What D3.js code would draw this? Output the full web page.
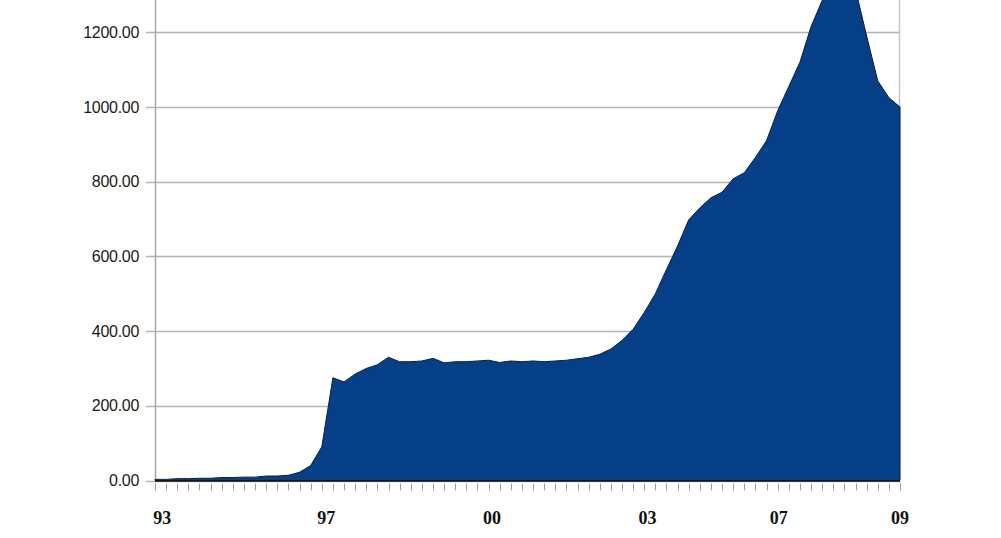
<!DOCTYPE html>
<html>
<head>
<meta charset="utf-8">
<script src="https://cdn.jsdelivr.net/npm/d3@7/dist/d3.min.js"></script>
<style>
  html, body { margin: 0; padding: 0; background: #fff; }
  svg { display: block; }
</style>
</head>
<body>
<div id="chart"></div>
<script>
// quarterly points, index 0 = start of 93
const values = [
  3, 3, 5, 5, 6, 6, 8, 8, 9, 9,
  12, 12, 14, 22, 40, 90, 275, 264, 285, 300,
  310, 330, 318, 318, 320, 327, 315, 318, 318, 320,
  322, 316, 320, 318, 320, 318, 320, 322, 326, 330,
  338, 352, 375, 405, 450, 500, 565, 628, 698, 730,
  757, 772, 808, 824, 865, 910, 990, 1055, 1120, 1215,
  1285, 1335, 1345, 1315, 1190, 1070, 1025, 1000
]
const yTicks = [0, 200, 400, 600, 800, 1000, 1200]
const xLabels = ['93', '97', '00', '03', '07', '09']
const xLabelPos = [0.65, 15.4, 30.3, 44.3, 56.1, 67]

const width = 1001
const height = 538
const plot = { left: 155, right: 900, top: 32.3, bottom: 480.5 }

const svg = d3.select('#chart')
  .append('svg')
  .attr('width', width)
  .attr('height', height)

const x = d3.scaleLinear()
  .domain([0, values.length - 1])
  .range([plot.left, plot.right])

const y = d3.scaleLinear()
  .domain([0, 1200])
  .range([plot.bottom, plot.top])

// gridlines + y labels
svg.append('g')
  .selectAll('line')
  .data(yTicks)
  .enter()
  .append('line')
  .attr('x1', plot.left - 9)
  .attr('x2', plot.right)
  .attr('y1', d => Math.round(y(d)) + 0.5)
  .attr('y2', d => Math.round(y(d)) + 0.5)
  .attr('stroke', '#b4b4b4')
  .attr('stroke-width', 1.5)

svg.append('g')
  .selectAll('text')
  .data(yTicks)
  .enter()
  .append('text')
  .attr('x', 139)
  .attr('y', d => y(d) + 5.5)
  .attr('text-anchor', 'end')
  .style('font-family', '"Liberation Sans", Arial, sans-serif')
  .style('font-size', '16px')
  .style('letter-spacing', '-0.3px')
  .attr('fill', '#1a1a1a')
  .text(d => d.toFixed(2))

// vertical frame lines
svg.append('line')
  .attr('x1', plot.left + 0.5).attr('x2', plot.left + 0.5)
  .attr('y1', 0).attr('y2', plot.bottom)
  .attr('stroke', '#a8a8a8').attr('stroke-width', 1.5)

svg.append('line')
  .attr('x1', plot.right - 0.5).attr('x2', plot.right - 0.5)
  .attr('y1', 0).attr('y2', plot.bottom)
  .attr('stroke', '#c4c4c4').attr('stroke-width', 1.5)

// area
const area = d3.area()
  .x((d, i) => x(i))
  .y0(y(0))
  .y1(d => y(d))

svg.append('path')
  .datum(values)
  .attr('d', area)
  .attr('fill', '#053f87')
  .attr('stroke', '#0d1f3c')
  .attr('stroke-width', 1)
  .attr('stroke-linejoin', 'round')

// bottom axis line
svg.append('line')
  .attr('x1', plot.left).attr('x2', plot.right)
  .attr('y1', plot.bottom + 0.5).attr('y2', plot.bottom + 0.5)
  .attr('stroke', '#111').attr('stroke-width', 1.5)

// minor ticks
svg.append('g')
  .selectAll('line')
  .data(d3.range(values.length))
  .enter()
  .append('line')
  .attr('x1', d => Math.round(x(d)) + 0.5)
  .attr('x2', d => Math.round(x(d)) + 0.5)
  .attr('y1', plot.bottom + 3)
  .attr('y2', plot.bottom + 10)
  .attr('stroke', '#a0a0a0')
  .attr('stroke-width', 1)

// x labels
svg.append('g')
  .selectAll('text')
  .data(xLabels)
  .enter()
  .append('text')
  .attr('x', (d, i) => x(xLabelPos[i]))
  .attr('y', 524)
  .attr('text-anchor', 'middle')
  .style('font-family', '"Liberation Serif", "Times New Roman", serif')
  .style('font-weight', 'bold')
  .style('font-size', '18px')
  .attr('fill', '#111')
  .text(d => d)
</script>
</body>
</html>
